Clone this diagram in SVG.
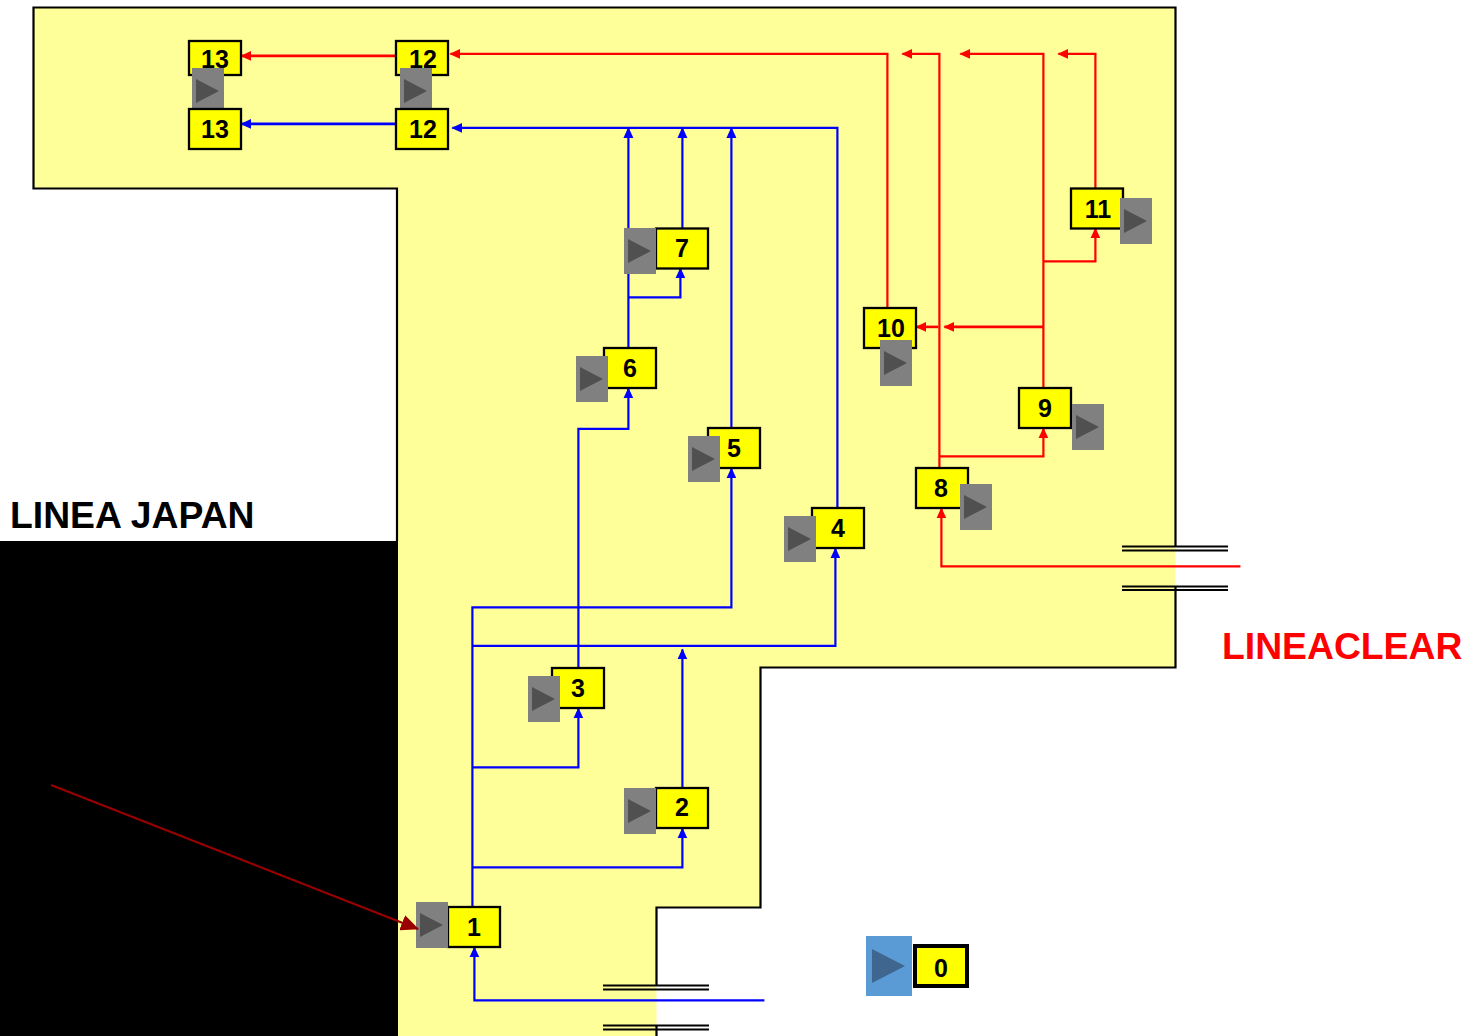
<svg xmlns="http://www.w3.org/2000/svg" width="1481" height="1036" viewBox="0 0 1481 1036">
<style>
.box{fill:#ffff00;stroke:#000;stroke-width:2.3}
.gr{fill:#808080}
.tr{fill:#505050}
.t{font-family:"Liberation Sans",Arial,sans-serif;font-weight:700;font-size:25px;fill:#000;text-anchor:middle}
.lb{font-family:"Liberation Sans",Arial,sans-serif;font-weight:700;font-size:37.3px}
.b{fill:none;stroke:#0000ff;stroke-width:2.2}
.r{fill:none;stroke:#ff0000;stroke-width:2.2}
.bb{stroke-width:2.6}
.ba{marker-end:url(#ab)}
.ra{marker-end:url(#ar)}
.w{fill:none;stroke:#000;stroke-width:2.2}
</style>
<defs>
<marker id="ab" markerUnits="userSpaceOnUse" markerWidth="12" markerHeight="12" refX="10" refY="6" orient="auto"><path d="M0 1L11 6L0 11Z" fill="#0000ff"/></marker>
<marker id="ar" markerUnits="userSpaceOnUse" markerWidth="12" markerHeight="12" refX="10" refY="6" orient="auto"><path d="M0 1L11 6L0 11Z" fill="#ff0000"/></marker>
<marker id="ad" markerUnits="userSpaceOnUse" markerWidth="18" markerHeight="16" refX="17" refY="8" orient="auto"><path d="M0 0L18 8L0 16Z" fill="#990000"/></marker>
</defs>
<g id="area">
<path d="M33 7H1175.5V667.5H760.5V907.5H656.5V1036H398V188.500H33Z" fill="#ffff99"/>
<path class="w" d="M656.500 986V907.500H760.500V667.500H1175.500V587M1175.500 547V7.500H33.500V188.500H397V541M656.500 1026V1036"/>
<rect x="0" y="541" width="398" height="495" fill="#000"/>
<path class="w" d="M1122 546.500H1228M1122 550.500H1228M1122 586.500H1228M1122 590H1228M603 985.500H709M603 989.500H709M603 1025.500H709M603 1029.500H709"/>
<text class="lb" x="10" y="528" fill="#000">LINEA JAPAN</text>
<text class="lb" x="1222" y="659" fill="#ff0000">LINEACLEAR</text>
</g>
<g id="connectors" transform="translate(0.4 0.4)">
<path class="b ba" d="M764 1000H474V947"/>
<path class="b ba" d="M472 907V607H731V468"/>
<path class="b ba" d="M472 645.500H835V548"/>
<path class="b ba" d="M472 767H578V708"/>
<path class="b ba" d="M472 867H682V828"/>
<path class="b ba" d="M682 788V649"/>
<path class="b ba" d="M578 668V428.500H628V388"/>
<path class="b ba" d="M628 348V127.500"/>
<path class="b ba" d="M628 297H680V268"/>
<path class="b ba" d="M682 228V127.500"/>
<path class="b ba" d="M731 428V127.500"/>
<path class="b ba" d="M837 508V127.500H452"/>
<path class="b bb ba" d="M396 123.500H241"/>
<path class="r ra" d="M1240 566H941V508"/>
<path class="r ra" d="M939 468V53.500H902"/>
<path class="r ra" d="M939 456H1043V428"/>
<path class="r ra" d="M1043 388V53.500H960"/>
<path class="r ra" d="M1043 261H1095V228"/>
<path class="r ra" d="M1095 188V53.500H1058"/>
<path class="r bb ra" d="M1043 326.500H944"/>
<path class="r bb ra" d="M938 326.500H916"/>
<path class="r ra" d="M887 308V53.500H450"/>
<path class="r bb ra" d="M396 55.500H241"/>
</g>
<g id="n13a"><rect class="box" x="189" y="41" width="52" height="34"/><text class="t" x="215" y="68">13</text><rect class="gr" x="192" y="68" width="32" height="46"/><path class="tr" d="M196 79L219 91L196 103Z"/></g>
<g id="n13b"><rect class="box" x="189" y="109" width="52" height="40"/><text class="t" x="215" y="138">13</text></g>
<g id="n12a"><rect class="box" x="396" y="41" width="52" height="34"/><text class="t" x="423" y="68">12</text><rect class="gr" x="400" y="68" width="32" height="46"/><path class="tr" d="M404 79L427 91L404 103Z"/></g>
<g id="n12b"><rect class="box" x="396" y="109" width="52" height="40"/><text class="t" x="423" y="138">12</text></g>
<g id="n1"><rect class="box" x="448" y="907" width="52" height="40"/><text class="t" x="474" y="936">1</text><rect class="gr" x="416" y="902" width="32" height="46"/><path class="tr" d="M420 913L443 925L420 937Z"/></g>
<g id="n2"><rect class="box" x="656" y="788" width="52" height="40"/><text class="t" x="682" y="816">2</text><rect class="gr" x="624" y="788" width="32" height="46"/><path class="tr" d="M628 799L651 811L628 823Z"/></g>
<g id="n3"><rect class="box" x="552" y="668" width="52" height="40"/><text class="t" x="578" y="697">3</text><rect class="gr" x="528" y="676" width="32" height="46"/><path class="tr" d="M532 687L555 699L532 711Z"/></g>
<g id="n4"><rect class="box" x="812" y="508" width="52" height="40"/><text class="t" x="838" y="537">4</text><rect class="gr" x="784" y="516" width="32" height="46"/><path class="tr" d="M788 527L811 539L788 551Z"/></g>
<g id="n5"><rect class="box" x="708" y="428" width="52" height="40"/><text class="t" x="734" y="457">5</text><rect class="gr" x="688" y="436" width="32" height="46"/><path class="tr" d="M692 447L715 459L692 471Z"/></g>
<g id="n6"><rect class="box" x="604" y="348" width="52" height="40"/><text class="t" x="630" y="377">6</text><rect class="gr" x="576" y="356" width="32" height="46"/><path class="tr" d="M580 367L603 379L580 391Z"/></g>
<g id="n7"><rect class="box" x="656" y="228.500" width="52" height="40"/><text class="t" x="682" y="257">7</text><rect class="gr" x="624" y="228" width="32" height="46"/><path class="tr" d="M628 239L651 251L628 263Z"/></g>
<g id="n8"><rect class="box" x="916" y="468" width="52" height="40"/><text class="t" x="941" y="497">8</text><rect class="gr" x="960" y="484" width="32" height="46"/><path class="tr" d="M964 495L987 507L964 519Z"/></g>
<g id="n9"><rect class="box" x="1019" y="388" width="52" height="40"/><text class="t" x="1045" y="417">9</text><rect class="gr" x="1072" y="404" width="32" height="46"/><path class="tr" d="M1076 415L1099 427L1076 439Z"/></g>
<g id="n10"><rect class="box" x="864" y="308" width="52" height="40"/><text class="t" x="891" y="337">10</text><rect class="gr" x="880" y="340" width="32" height="46"/><path class="tr" d="M884 351L907 363L884 375Z"/></g>
<g id="n11"><rect class="box" x="1071" y="188.500" width="52" height="40"/><text class="t" x="1098" y="218">11</text><rect class="gr" x="1120" y="198" width="32" height="46"/><path class="tr" d="M1124 209L1147 221L1124 233Z"/></g>
<g id="n0"><rect x="915" y="946" width="52" height="40" fill="#ffff00" stroke="#000" stroke-width="4"/><text class="t" x="941" y="977">0</text><rect x="866" y="936" width="46" height="60" fill="#5b9bd5"/><path d="M872 949L905 966L872 983Z" fill="#3f668f"/></g>
<path id="feed" d="M51 785L418 929" fill="none" stroke="#990000" stroke-width="2.2" marker-end="url(#ad)"/>
</svg>
